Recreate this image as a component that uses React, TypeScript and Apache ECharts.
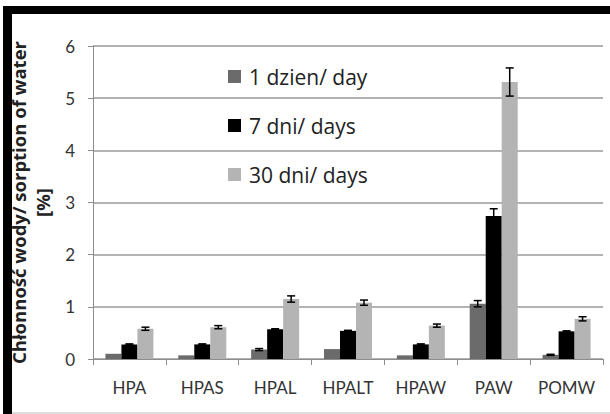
import React, { useEffect, useRef } from "react";
import * as echarts from "echarts";

const categories = ["HPA", "HPAS", "HPAL", "HPALT", "HPAW", "PAW", "POMW"];
const seriesNames = ["1 dzien/ day", "7 dni/ days", "30 dni/ days"];
const day1 = [0.1, 0.07, 0.18, 0.19, 0.07, 1.06, 0.08];
const day7 = [0.28, 0.28, 0.57, 0.54, 0.28, 2.74, 0.53];
const day30 = [0.58, 0.61, 1.15, 1.08, 0.64, 5.31, 0.77];
const err1 = [0, 0, 0.02, 0, 0, 0.06, 0.01];
const err7 = [0.01, 0.01, 0.01, 0.01, 0.01, 0.14, 0.01];
const err30 = [0.03, 0.03, 0.06, 0.05, 0.03, 0.27, 0.04];
const yTicks = [0, 1, 2, 3, 4, 5, 6];

const colors = ["#6b6b6b", "#000000", "#b4b4b4"];
const BAR_W = 16;

export default function App() {
  const ref = useRef<HTMLDivElement>(null);
  useEffect(() => {
    if (!ref.current) return;
    const chart = echarts.init(ref.current, null, { renderer: "svg" });
    const values = [day1, day7, day30];
    const errs = [err1, err7, err30];

    const barSeries = values.map((v, i) => ({
      name: seriesNames[i],
      type: "bar",
      data: v,
      barWidth: BAR_W,
      barGap: "0%",
      itemStyle: { color: colors[i] },
      z: 2,
    }));

    const errSeries = values.map((v, i) => ({
      type: "custom",
      name: "err" + i,
      data: v.map((val, j) => [j, val, errs[i][j]]),
      z: 5,
      renderItem: (params: any, api: any) => {
        const idx = api.value(0);
        const val = api.value(1);
        const e = api.value(2);
        if (!e) return { type: "group", children: [] };
        const offset = (i - 1) * BAR_W;
        const hi = api.coord([idx, val + e]);
        const lo = api.coord([idx, val - e]);
        const x = hi[0] + offset;
        const cap = 4;
        const style = { stroke: "#000", lineWidth: 1.5 };
        return {
          type: "group",
          children: [
            { type: "line", shape: { x1: x, y1: hi[1], x2: x, y2: lo[1] }, style },
            { type: "line", shape: { x1: x - cap, y1: hi[1], x2: x + cap, y2: hi[1] }, style },
            { type: "line", shape: { x1: x - cap, y1: lo[1], x2: x + cap, y2: lo[1] }, style },
          ],
        };
      },
    }));

    chart.setOption({
      animation: false,
      backgroundColor: "#ffffff",
      grid: { left: 93, right: 7, top: 46, bottom: 55, outerBoundsMode: "none", containLabel: false },
      legend: {
        data: seriesNames,
        orient: "vertical",
        left: 228,
        top: 65,
        padding: 0,
        itemWidth: 13,
        itemHeight: 13,
        itemGap: 26,
        icon: "rect",
        textStyle: {
          fontFamily: "Open Sans",
          fontSize: 21,
          color: "#222",
          lineHeight: 23,
          padding: [0, 0, 0, 3],
        },
      },
      xAxis: {
        type: "category",
        data: categories,
        axisLine: { lineStyle: { color: "#8c8c8c", width: 1 } },
        axisTick: { show: true, length: 6, lineStyle: { color: "#8c8c8c" } },
        axisLabel: {
          interval: 0,
          fontFamily: "Lato",
          fontSize: 17,
          color: "#333",
          margin: 20,
        },
      },
      yAxis: {
        type: "value",
        min: yTicks[0],
        max: yTicks[yTicks.length - 1],
        interval: 1,
        name: "Chłonność wody/ sorption of water\n[%]",
        nameLocation: "middle",
        nameRotate: 90,
        nameGap: 33,
        nameTextStyle: {
          fontFamily: "Open Sans",
          fontWeight: "bold",
          fontSize: 18.5,
          color: "#222",
          lineHeight: 24,
        },
        axisLine: { show: true, lineStyle: { color: "#8c8c8c", width: 1 } },
        axisTick: { show: true, length: 5, lineStyle: { color: "#8c8c8c" } },
        axisLabel: {
          fontFamily: "Lato",
          fontSize: 17,
          color: "#333",
          margin: 18,
        },
        splitLine: { lineStyle: { color: "#9a9a9a", width: 1.5 } },
      },
      series: [...barSeries, ...errSeries],
      graphic: [
        { type: "rect", shape: { x: 3, y: 6, width: 607, height: 8 }, style: { fill: "#000" } },
        { type: "rect", shape: { x: 3, y: 6, width: 9, height: 408 }, style: { fill: "#000" } },
        { type: "rect", shape: { x: 12, y: 412, width: 598, height: 2 }, style: { fill: "#dcdcdc" } },
      ],
    });
    return () => chart.dispose();
  }, []);
  return (
    <div
      ref={ref}
      style={{ position: "absolute", left: 0, top: 0, width: 610, height: 414 }}
    />
  );
}
